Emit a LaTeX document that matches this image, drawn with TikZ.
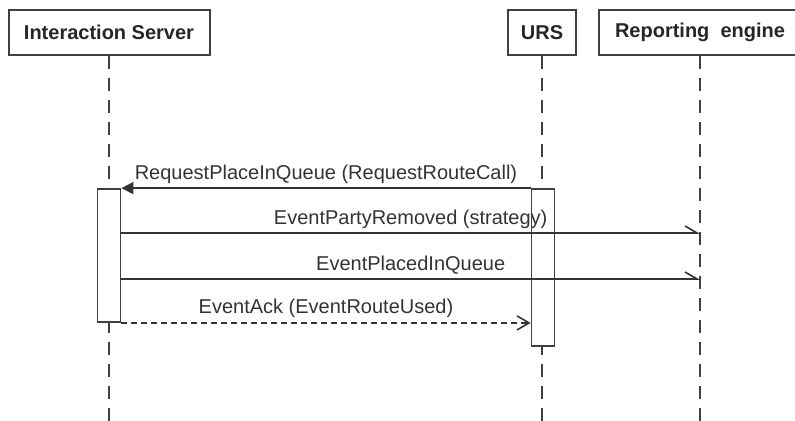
\documentclass[tikz,border=0pt]{standalone}
\usepackage{fontspec}
\setmainfont{Liberation Sans}
\usetikzlibrary{arrows.meta}

\begin{document}
\begin{tikzpicture}[
    x=0.5pt, y=-0.5pt,
    font=\fontsize{10}{12}\selectfont,
    actor/.style={draw=black!75, line width=1pt, minimum height=22.5pt, inner sep=0pt, font=\fontsize{10}{12}\selectfont\bfseries, text=black!85},
    life/.style={draw=black!75, line width=0.85pt, dash pattern=on 6.5pt off 4.5pt},
    act/.style={draw=black!75, fill=white, line width=0.9pt, minimum width=11.5pt, inner sep=0pt},
    sync/.style={-{Triangle[length=6pt, width=6pt]}, line width=0.8pt, draw=black!80},
    async/.style={-{Straight Barb[left, length=6pt, width=7pt]}, line width=0.8pt, draw=black!80},
    reply/.style={-{Straight Barb[length=6pt, width=7pt]}, line width=0.8pt, draw=black!80, dash pattern=on 3pt off 2pt},
    msg/.style={above, inner sep=2pt, text=black!80}
]
\clip (0,0) rectangle (795,420);
% actors
\node[actor, minimum width=100.5pt] (is) at (109,32.5) {Interaction Server};
\node[actor, minimum width=34pt] (urs) at (542,32.5) {URS};
\node[actor, minimum width=101pt] (re) at (700,32.5) {Reporting~ engine};
% lifelines
\coordinate (isbot) at (109,425);
\coordinate (ursbot) at (542,425);
\coordinate (rebot) at (700,425);
\draw[life] (is) -- (isbot);
\draw[life] (urs) -- (ursbot);
\draw[life] (re) -- (rebot);
% activations
\node[act, minimum height=66.5pt] (isact) at (109,255.5) {};
\node[act, minimum height=78.5pt] (ursact) at (543,267.5) {};
% messages
\coordinate (re1) at (700,233);
\coordinate (re2) at (700,279);
\draw[sync] (ursact.north west) -- node[msg] {RequestPlaceInQueue (RequestRouteCall)} (isact.north east);
\draw[async] (isact.east |- re1) -- node[msg] {EventPartyRemoved (strategy)} (re1);
\draw[async] (isact.east |- re2) -- node[msg] {EventPlacedInQueue} (re2);
\draw[reply] (isact.south east) -- node[msg] {EventAck (EventRouteUsed)} (ursact.west |- isact.south east);
\end{tikzpicture}
\end{document}
